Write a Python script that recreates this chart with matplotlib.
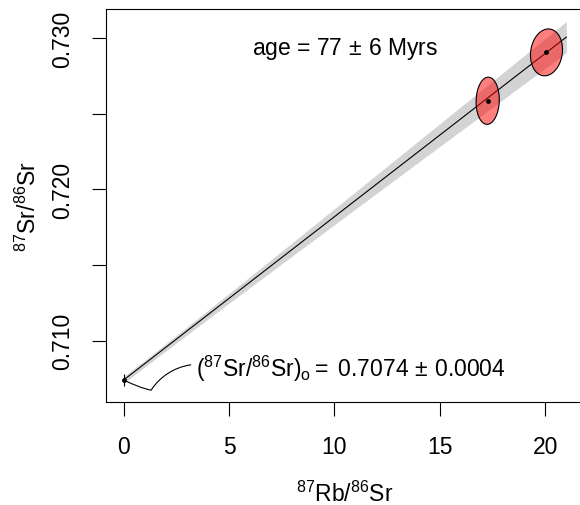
import numpy as np
import matplotlib
matplotlib.use('Agg')
import matplotlib.pyplot as plt
from matplotlib.path import Path
from matplotlib.patches import PathPatch

plt.rcParams['font.family'] = ['Liberation Sans', 'DejaVu Sans']
plt.rcParams['mathtext.fontset'] = 'custom'
plt.rcParams['mathtext.rm'] = 'Liberation Sans'
plt.rcParams['mathtext.it'] = 'Liberation Sans:italic'
plt.rcParams['mathtext.bf'] = 'Liberation Sans:bold'

# Sample ratios (centres of the error ellipses) and their half-widths
rb_sr = [17.27, 20.06]
sr_sr = [0.72587, 0.72907]
rb_err = [0.55, 0.76]
sr_err = [0.00156, 0.00155]
rho = [0.05, 0.12]

# Isochron fit
intercept = 0.7074
intercept_err = 0.0004
slope = 0.00108
band_a = 0.00022      # envelope half-width at x = 0
band_b = 0.000048     # envelope growth with x
x_end = 21.0
age_text = r'age = 77$\,\pm\,$6 Myrs'

fs = 16.5
fig = plt.figure(figsize=(5.8, 5.06), dpi=100)
ax = fig.add_axes([106/580, 1 - 403/506, 478/580, 393/506])

# Confidence envelope and isochron line
xx = np.linspace(0, x_end, 200)
yy = intercept + slope*xx
hw = np.sqrt(band_a**2 + (band_b*xx)**2)
ax.fill_between(xx, yy - hw, yy + hw, color='#d3d3d3', lw=0, zorder=1)
ax.plot(xx, yy, c='k', lw=0.8, zorder=2)

# Error ellipses
t = np.linspace(0, 2*np.pi, 200)
for x0, y0, sx, sy, r in zip(rb_sr, sr_sr, rb_err, sr_err, rho):
    ex = x0 + sx*np.cos(t)
    ey = y0 + sy*(r*np.cos(t) + np.sqrt(1 - r**2)*np.sin(t))
    ax.fill(ex, ey, facecolor=(1, 0, 0, 0.5), edgecolor='k', lw=0.8, zorder=3)
ax.scatter(rb_sr, sr_sr, s=6, c='k', zorder=4)

# Initial ratio: error bar at x = 0
ax.errorbar([0], [intercept], yerr=[intercept_err], fmt='o', ms=2.5, c='k',
            elinewidth=0.8, capsize=0, zorder=4)

# Curved leader from the intercept to its label
verts = [(0, intercept), (0.7, 0.70690), (1.3, 0.70672),
         (1.7, 0.70760), (2.4, 0.70825), (3.2, 0.70840)]
codes = [Path.MOVETO, Path.CURVE3, Path.CURVE3,
         Path.CURVE4, Path.CURVE4, Path.CURVE4]
ax.add_patch(PathPatch(Path(verts, codes), fc='none', ec='k', lw=0.8, zorder=4))
ax.text(3.45, 0.70766,
        r'$(^{87}\mathrm{Sr}/^{86}\mathrm{Sr})_\mathrm{o} =\ 0.7074\,\pm\,0.0004$',
        fontsize=fs, ha='left', va='baseline')

ax.text(0.5, 0.9, age_text, transform=ax.transAxes, fontsize=fs,
        ha='center', va='center')

# Axes appearance
ax.set_xlim(-0.84, 21.84)
ax.set_ylim(0.70594, 0.73194)
ax.set_xticks([0, 5, 10, 15, 20])
ax.set_yticks([0.710, 0.715, 0.720, 0.725, 0.730])
ax.set_yticklabels(['0.710', '', '0.720', '', '0.730'])
ax.tick_params(axis='both', direction='out', length=10, width=0.8,
               labelsize=fs)
ax.tick_params(axis='x', pad=14)
ax.tick_params(axis='y', pad=13)
for lab in ax.get_yticklabels():
    lab.set_rotation(90)
    lab.set_va('center')
for sp in ax.spines.values():
    sp.set_linewidth(0.8)

fig.text((106 + 584)/2/580, 1 - 494/506, r'$^{87}$Rb/$^{86}$Sr',
         fontsize=fs, ha='center', va='center')
fig.text(28/580, 1 - 206/506, r'$^{87}$Sr/$^{86}$Sr', rotation=90,
         fontsize=fs, ha='center', va='center')

fig.savefig('out.png', dpi=100)
